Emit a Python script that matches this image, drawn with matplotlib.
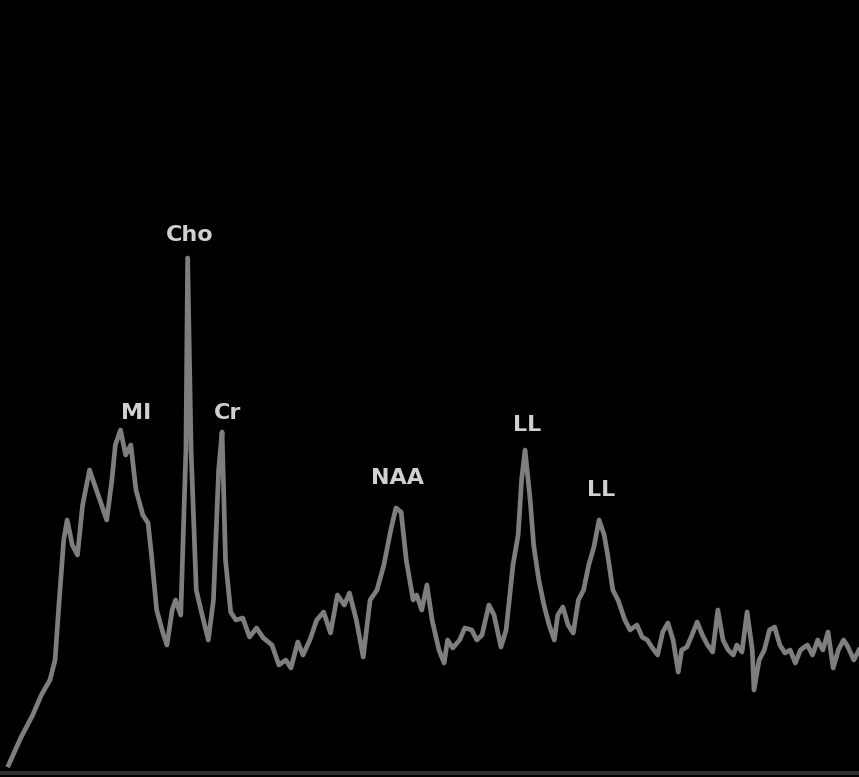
import numpy as np
import matplotlib
matplotlib.use("Agg")
import matplotlib.pyplot as plt

# Chemical shift (ppm) of each sample and its signal intensity (a.u.)
ppm = [4.24, 4.17, 4.10, 4.05, 4.00, 3.97, 3.95, 3.92, 3.90, 3.87,
       3.84, 3.81, 3.77, 3.74, 3.70, 3.67, 3.64, 3.62, 3.59, 3.56,
       3.53, 3.50, 3.46, 3.43, 3.41, 3.38, 3.34, 3.32, 3.29, 3.27,
       3.24, 3.21, 3.20, 3.18, 3.15, 3.12, 3.08, 3.05, 3.02, 3.00,
       2.98, 2.95, 2.92, 2.88, 2.84, 2.80, 2.76, 2.71, 2.67, 2.63,
       2.60, 2.56, 2.53, 2.49, 2.45, 2.41, 2.37, 2.33, 2.29, 2.26,
       2.22, 2.18, 2.14, 2.10, 2.06, 2.02, 1.99, 1.96, 1.93, 1.89,
       1.87, 1.84, 1.81, 1.78, 1.74, 1.71, 1.69, 1.66, 1.62, 1.59,
       1.55, 1.52, 1.49, 1.45, 1.42, 1.38, 1.35, 1.31, 1.28, 1.26,
       1.24, 1.21, 1.19, 1.16, 1.13, 1.10, 1.07, 1.05, 1.02, 0.99,
       0.96, 0.93, 0.90, 0.87, 0.84, 0.81, 0.78, 0.76, 0.73, 0.70,
       0.66, 0.63, 0.59, 0.56, 0.53, 0.50, 0.47, 0.44, 0.41, 0.38,
       0.35, 0.33, 0.30, 0.27, 0.24, 0.21, 0.18, 0.15, 0.12, 0.09,
       0.06, 0.03, 0.01, -0.02, -0.05, -0.08, -0.09, -0.12, -0.15, -0.18,
       -0.21, -0.24, -0.27, -0.30, -0.33, -0.36, -0.40, -0.43, -0.46, -0.49,
       -0.52, -0.55, -0.58, -0.61, -0.63, -0.67, -0.70]

intensity = [5, 32, 55, 75, 90, 110, 160, 230, 250, 225,
             215, 265, 300, 285, 265, 250, 290, 325, 340, 315,
             325, 280, 255, 247, 215, 160, 135, 125, 160, 170,
             155, 320, 512, 320, 180, 158, 130, 170, 300, 338,
             210, 158, 150, 152, 133, 142, 132, 125, 105, 110,
             102, 128, 115, 130, 150, 158, 137, 175, 165, 177,
             150, 113, 170, 180, 205, 240, 262, 258, 210, 170,
             175, 160, 185, 150, 120, 107, 130, 122, 130, 142,
             140, 130, 135, 165, 155, 123, 140, 205, 235, 290,
             320, 270, 225, 190, 165, 145, 130, 155, 163, 145,
             137, 170, 180, 205, 223, 250, 235, 215, 180, 170,
             150, 140, 145, 133, 130, 122, 115, 138, 147, 130,
             98, 120, 123, 135, 148, 135, 125, 118, 160, 130,
             120, 115, 125, 118, 158, 120, 80, 110, 120, 140,
             143, 125, 117, 120, 107, 120, 125, 115, 130, 120,
             138, 102, 120, 130, 125, 110, 120]

# Metabolite labels and where they sit
labels = ["Cho", "MI", "Cr", "NAA", "LL", "LL"]
label_ppm = [3.19, 3.50, 2.97, 1.98, 1.23, 0.80]
label_height = [535, 357, 357, 292, 345, 280]

assert len(ppm) == len(intensity)

fig = plt.figure(figsize=(8.59, 7.77), dpi=100, facecolor="black")
ax = fig.add_axes([0, 0, 1, 1], facecolor="black")

# Baseline of the spectrum display
ax.axhline(-3, color="#2e2e2e", lw=3, zorder=1)

ax.plot(ppm, intensity, color="#7e7e7e", lw=3.4, solid_joinstyle="round",
        zorder=2)

for name, x, y in zip(labels, label_ppm, label_height):
    ax.text(x, y, name, color="#d0d0d0", fontsize=16, fontweight="bold",
            ha="center", va="center", zorder=3)

ax.set_xlim(4.29, -0.70)
ax.set_ylim(-7, 770)
ax.axis("off")

fig.savefig("out.png", dpi=100, facecolor="black")
